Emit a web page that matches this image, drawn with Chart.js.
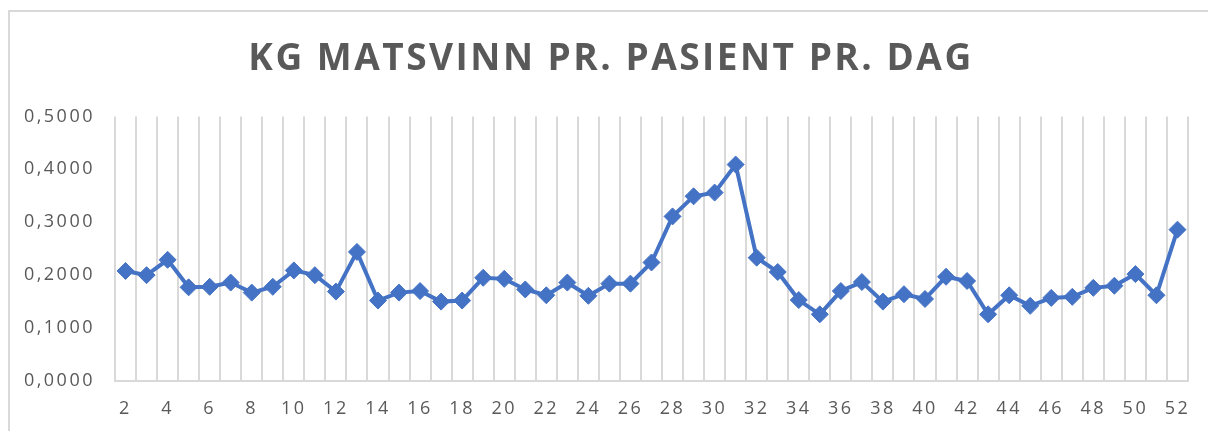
<!DOCTYPE html>
<html>
<head>
<meta charset="utf-8">
<script src="https://cdn.jsdelivr.net/npm/chart.js@4.4.1/dist/chart.umd.min.js"></script>
<style>
  html, body { margin: 0; padding: 0; background: #fff; overflow: hidden; }
  #wrap { position: relative; width: 1208px; height: 431px; }
  #frame { position: absolute; left: 8px; top: 10px; width: 1400px; height: 600px; border: 2px solid #d9d9d9; box-sizing: border-box; }
  canvas { position: absolute; left: 0; top: 0; }
</style>
</head>
<body>
<div id="wrap">
  <div id="frame"></div>
  <canvas id="c" width="1208" height="431"></canvas>
</div>
<script>
const chartTitle = 'KG MATSVINN PR. PASIENT PR. DAG';
const weeks = [2,3,4,5,6,7,8,9,10,11,12,13,14,15,16,17,18,19,20,21,22,23,24,25,26,27,28,29,30,31,32,33,34,35,36,37,38,39,40,41,42,43,44,45,46,47,48,49,50,51,52];
const kgPerPatient = [0.208,0.200,0.229,0.177,0.178,0.186,0.167,0.178,0.209,0.200,
  0.169,0.244,0.152,0.167,0.170,0.150,0.152,0.195,0.193,0.173,
  0.162,0.186,0.161,0.184,0.184,0.224,0.311,0.349,0.356,0.409,
  0.233,0.206,0.153,0.126,0.170,0.187,0.150,0.164,0.155,0.197,
  0.189,0.126,0.162,0.142,0.157,0.159,0.176,0.180,0.202,0.162,0.286];
const yTicks = [0, 0.1, 0.2, 0.3, 0.4, 0.5];

const grey = '#595959';
const spacing = {
  id: 'spacing',
  beforeUpdate(chart) { chart.ctx.letterSpacing = '2.5px'; },
  beforeLayout(chart) { chart.ctx.letterSpacing = '2.5px'; },
  afterLayout(chart) {
    const t = chart.titleBlock;
    if (t) { t.left = 34; t.width = t.right - t.left; }
  },
  beforeDraw(chart) { chart.ctx.letterSpacing = '2.5px'; }
};
new Chart(document.getElementById('c'), {
  type: 'line',
  plugins: [spacing],
  data: {
    labels: weeks.map(String),
    datasets: [{
      data: kgPerPatient,
      borderColor: '#4472C4',
      backgroundColor: '#4472C4',
      borderWidth: 4,
      pointStyle: 'rectRot',
      pointRadius: 8.5,
      pointBorderWidth: 1,
      pointBackgroundColor: '#4472C4',
      pointBorderColor: '#4472C4',
      tension: 0
    }]
  },
  options: {
    responsive: false,
    animation: false,
    devicePixelRatio: 1,
    layout: { padding: { left: 0, right: 20, top: 30, bottom: 0 } },
    plugins: {
      legend: { display: false },
      tooltip: { enabled: false },
      title: {
        display: true,
        text: chartTitle,
        color: grey,
        font: { family: 'Open Sans', size: 37, weight: 'bold' },
        padding: { top: 7, bottom: 35 }
      }
    },
    scales: {
      x: {
        type: 'category',
        offset: true,
        grid: { offset: true, color: '#d9d9d9', lineWidth: 2, drawTicks: false },
        border: { display: true, color: '#d9d9d9', width: 2 },
        ticks: {
          autoSkip: false,
          maxRotation: 0,
          padding: 17,
          color: grey,
          font: { family: 'Open Sans', size: 18 },
          callback: function(v, i) { return i % 2 === 0 ? this.getLabelForValue(v) : ''; }
        },
        afterFit: s => { s.height = 50; }
      },
      y: {
        min: 0, max: 0.5,
        afterBuildTicks: s => { s.ticks = yTicks.map(v => ({ value: v })); },
        grid: { display: false, drawTicks: false },
        border: { display: false },
        ticks: {
          padding: 20,
          color: grey,
          font: { family: 'Open Sans', size: 18 },
          callback: v => Number(v).toFixed(4).replace('.', ',')
        },
        afterFit: s => { s.width = 115; }
      }
    }
  }
});
</script>
</body>
</html>
